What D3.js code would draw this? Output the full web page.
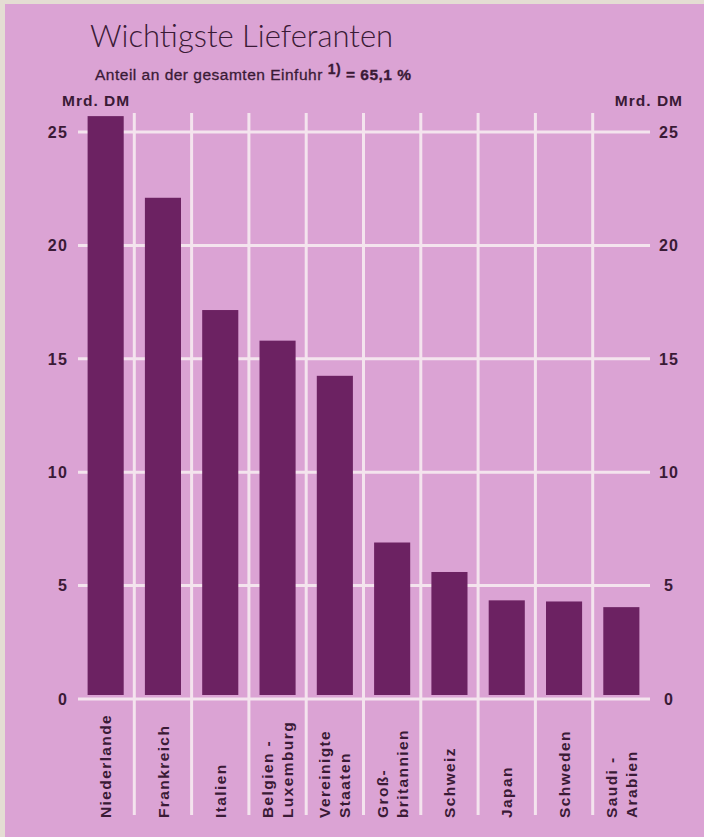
<!DOCTYPE html>
<html><head><meta charset="utf-8">
<script src="https://cdn.jsdelivr.net/npm/d3@7"></script>
<style>body{margin:0;background:#e4ddd3;} svg{display:block;}</style>
</head><body>
<script>
const categories = [["Niederlande"],["Frankreich"],["Italien"],["Belgien -","Luxemburg"],["Vereinigte","Staaten"],["Groß-","britannien"],["Schweiz"],["Japan"],["Schweden"],["Saudi -","Arabien"]];
const values = [25.7, 22.1, 17.15, 15.8, 14.25, 6.9, 5.6, 4.35, 4.3, 4.05];
const tickValues = [0, 5, 10, 15, 20, 25];
const titleText = "Wichtigste Lieferanten";
const unitLabel = "Mrd. DM";

const W = 704, H = 837;
const pink = "#dba3d4", barColor = "#6c2262", grid = "#f4e4ee", ink = "#3a1a36";
const svg = d3.select("body").append("svg").attr("width", W).attr("height", H);
svg.append("rect").attr("x", 0).attr("y", 0).attr("width", W).attr("height", H).attr("fill", "#e4ddd3");
svg.append("rect").attr("x", 5).attr("y", 4).attr("width", W - 5).attr("height", H - 4).attr("fill", pink);

const keys = categories.map(c => c.join(" "));
const x = d3.scaleBand().domain(keys).range([77, 650]).padding(0);
const y = d3.scaleLinear().domain([0, 25]).range([699, 132]);
const bw = x.bandwidth(), barW = bw * 0.63;

// horizontal gridlines
svg.append("g").selectAll("line").data(tickValues).join("line")
  .attr("x1", 78).attr("x2", 650).attr("y1", d => y(d)).attr("y2", d => y(d))
  .attr("stroke", grid).attr("stroke-width", 3);
// vertical gridlines (band boundaries)
svg.append("g").selectAll("line").data(keys.slice(1)).join("line")
  .attr("x1", d => x(d)).attr("x2", d => x(d)).attr("y1", 113).attr("y2", 815)
  .attr("stroke", grid).attr("stroke-width", 3);

// bars
svg.append("g").selectAll("rect").data(values).join("rect")
  .attr("x", (d, i) => x(keys[i]) + (bw - barW) / 2)
  .attr("width", barW)
  .attr("y", d => y(d))
  .attr("height", d => y(0) - 4 - y(d))
  .attr("fill", barColor);

// axes labels
const tickFont = "'Liberation Sans', Arial, sans-serif";
svg.append("g").selectAll("text").data(tickValues).join("text")
  .attr("x", 68).attr("y", d => y(d)).attr("dy", "0.36em")
  .attr("text-anchor", "end").attr("font-family", tickFont).attr("font-weight", "bold")
  .attr("font-size", 16).attr("letter-spacing", 1.2).attr("fill", ink).text(d => d);
svg.append("g").selectAll("text").data(tickValues).join("text")
  .attr("x", 669).attr("y", d => y(d)).attr("dy", "0.36em")
  .attr("text-anchor", "middle").attr("font-family", tickFont).attr("font-weight", "bold")
  .attr("font-size", 16).attr("letter-spacing", 1.2).attr("fill", ink).text(d => d);

svg.append("text").attr("x", 62).attr("y", 106).attr("font-family", tickFont).attr("font-weight", "bold")
  .attr("font-size", 15.5).attr("letter-spacing", 1).attr("fill", ink).text(unitLabel);
svg.append("text").attr("x", 683).attr("y", 106).attr("text-anchor", "end").attr("font-family", tickFont).attr("font-weight", "bold")
  .attr("font-size", 15.5).attr("letter-spacing", 1).attr("fill", ink).text(unitLabel);

// title
svg.append("text").attr("x", 90).attr("y", 47).attr("font-family", "Lato, sans-serif").attr("font-weight", 300)
  .attr("font-size", 31).attr("fill", ink).text(titleText);
const sub = svg.append("text").attr("x", 95).attr("y", 80).attr("font-family", tickFont)
  .attr("font-size", 15.5).attr("letter-spacing", 0.5).attr("fill", ink).attr("stroke", ink).attr("stroke-width", 0.3);
sub.append("tspan").text("Anteil an der gesamten Einfuhr ");
sub.append("tspan").attr("font-size", 14).attr("dy", -6).attr("font-weight", "bold").text("1)");
sub.append("tspan").attr("dy", 6).attr("font-weight", "bold").text(" = 65,1 %");

// category labels
const cat = svg.append("g").selectAll("text").data(categories).join("text")
  .attr("transform", (d, i) => `translate(${x(keys[i]) + bw / 2},818) rotate(-90)`)
  .attr("font-family", tickFont).attr("font-weight", "bold").attr("font-size", 15.5)
  .attr("letter-spacing", 1.4).attr("fill", ink);
cat.each(function(d) {
  const t = d3.select(this);
  const n = d.length;
  d.forEach((line, j) => {
    t.append("tspan").attr("x", 0).attr("y", (j - (n - 1) / 2) * 20).attr("dy", "0.36em").text(line);
  });
});
</script>
</body></html>
